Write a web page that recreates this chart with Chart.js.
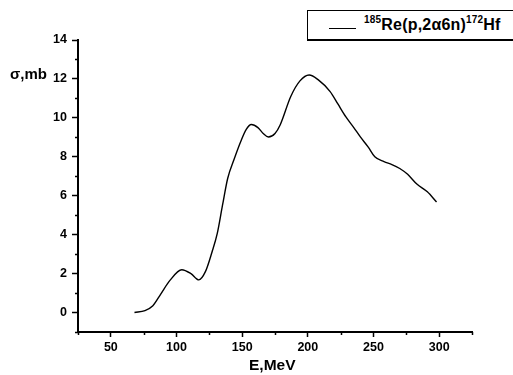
<!DOCTYPE html>
<html>
<head>
<meta charset="utf-8">
<script src="https://cdn.jsdelivr.net/npm/chart.js@4/dist/chart.umd.min.js"></script>
<style>
  html, body { margin: 0; padding: 0; background: #fff; }
  #wrap { position: relative; width: 513px; height: 375px; font-family: "Liberation Sans", Arial, sans-serif; font-weight: bold; color: #000; }
  canvas { position: absolute; left: 0; top: 0; }
  .lbl { position: absolute; white-space: nowrap; }
  #legend { position: absolute; left: 307px; top: 10px; width: 220px; height: 28px; border: 1.5px solid #000; border-right-width: 2.5px; border-bottom-width: 2.5px; background: #fff; }
  #legend .sample { position: absolute; left: 21px; top: 17px; width: 27px; border-top: 1.2px solid #000; }
  #legend .txt { position: absolute; left: 56px; top: 5px; font-size: 16px; line-height: 18px; letter-spacing: 0.2px; }
  #legend sup { font-size: 10px; vertical-align: 7px; line-height: 0; }
</style>
</head>
<body>
<div id="wrap">
  <canvas id="c" width="513" height="375"></canvas>
  <div id="legend"><div class="sample"></div><div class="txt"><sup>185</sup>Re(p,2&alpha;6n)<sup>172</sup>Hf</div></div>
  <div class="lbl" style="left:10px; top:65px; font-size:15px;">&sigma;,mb</div>
  <div class="lbl" style="left:249px; top:356px; font-size:15.5px;">E,MeV</div>
</div>
<script>
// excitation function: energy (MeV) and cross section (mb)
const energy = [68, 76, 82, 88, 95, 104, 111, 117, 122, 127, 131, 135, 139, 144, 149, 153, 157, 162, 166, 170, 175, 179, 187, 194, 201, 208, 217, 223, 229, 235, 240, 246, 251, 258, 264, 270, 276, 283, 291, 298];
const sigma  = [0.0, 0.1, 0.35, 0.95, 1.65, 2.2, 2.0, 1.68, 2.1, 3.1, 4.05, 5.5, 6.9, 7.9, 8.8, 9.4, 9.66, 9.5, 9.2, 9.02, 9.2, 9.65, 11.1, 11.9, 12.2, 11.95, 11.35, 10.7, 10.05, 9.5, 9.02, 8.5, 8.0, 7.75, 7.6, 7.4, 7.1, 6.6, 6.2, 5.68];

const xTicks = [50, 100, 150, 200, 250, 300];
const xMinorTicks = [25, 75, 125, 175, 225, 275, 325];
const yTicks = [0, 2, 4, 6, 8, 10, 12, 14];
const yMinorTicks = [-1, 1, 3, 5, 7, 9, 11, 13];

const points = energy.map((e, i) => ({ x: e, y: sigma[i] }));

const tickFont = { family: "'Liberation Sans', Arial, sans-serif", size: 12.5, weight: 'bold' };

// short minor ticks on both axes
const minorTicks = {
  id: 'minorTicks',
  afterDraw(chart) {
    const ctx = chart.ctx;
    const xs = chart.scales.x, ys = chart.scales.y;
    const left = chart.chartArea.left, bottom = chart.chartArea.bottom;
    ctx.save();
    ctx.strokeStyle = '#000';
    ctx.lineWidth = 1.5;
    ctx.beginPath();
    yMinorTicks.forEach(v => {
      const p = Math.round(ys.getPixelForValue(v)) + 0.5;
      ctx.moveTo(left - 3, p); ctx.lineTo(left, p);
    });
    xMinorTicks.forEach(v => {
      const p = Math.round(xs.getPixelForValue(v)) + 0.5;
      ctx.moveTo(p, bottom); ctx.lineTo(p, bottom + 3);
    });
    ctx.stroke();
    ctx.restore();
  }
};

new Chart(document.getElementById('c'), {
  type: 'line',
  data: {
    datasets: [{
      data: points,
      borderColor: '#000',
      borderWidth: 1.4,
      pointRadius: 0,
      fill: false,
      cubicInterpolationMode: 'monotone'
    }]
  },
  options: {
    responsive: false,
    animation: false,
    devicePixelRatio: 1,
    layout: { padding: { left: 0, right: 41, top: 40, bottom: 0 } },
    plugins: { legend: { display: false }, tooltip: { enabled: false } },
    scales: {
      x: {
        type: 'linear',
        min: 25, max: 325,
        afterBuildTicks: s => { s.ticks = xTicks.map(v => ({ value: v })); },
        afterFit: s => { s.height = 43; },
        border: { display: true, color: '#000', width: 2 },
        grid: { display: true, drawOnChartArea: false, drawTicks: true, tickLength: 5, color: '#000', tickWidth: 1.5 },
        ticks: { color: '#000', font: tickFont, padding: 3, maxRotation: 0 }
      },
      y: {
        type: 'linear',
        min: -1, max: 14,
        afterBuildTicks: s => { s.ticks = yTicks.map(v => ({ value: v })); },
        afterFit: s => { s.width = 78; },
        border: { display: true, color: '#000', width: 2 },
        grid: { display: true, drawOnChartArea: false, drawTicks: true, tickLength: 6, color: '#000', tickWidth: 1.5 },
        ticks: { color: '#000', font: tickFont, padding: 5 }
      }
    }
  },
  plugins: [minorTicks]
});
</script>
</body>
</html>
